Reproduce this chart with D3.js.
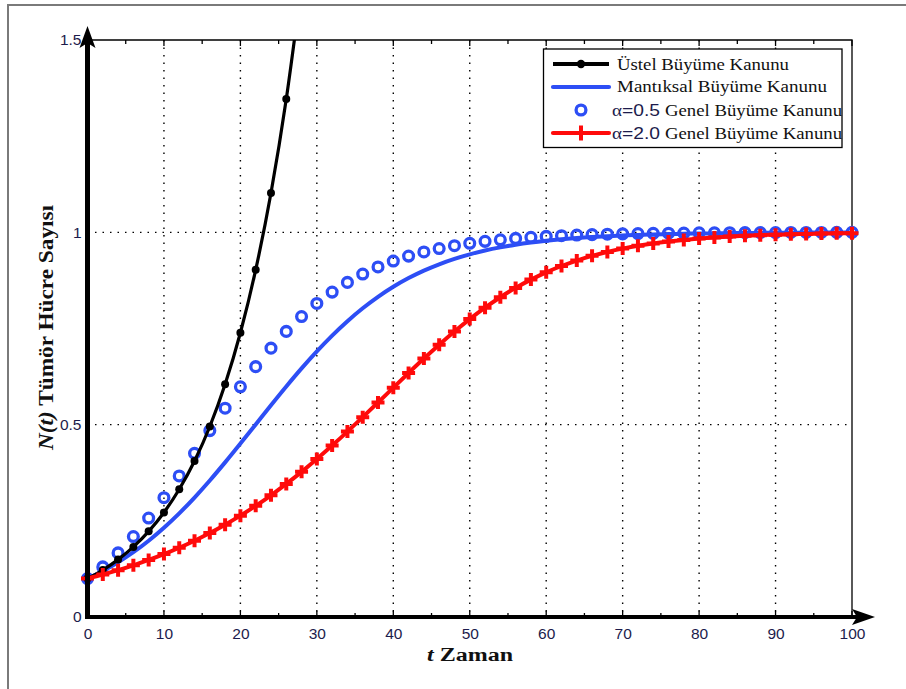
<!DOCTYPE html>
<html><head><meta charset="utf-8">
<script src="https://cdn.jsdelivr.net/npm/d3@7"></script>
<style>body{margin:0;background:#fff}svg{display:block}</style>
</head><body>
<svg id="c" width="906" height="689"></svg>
<script>
// ---- data ----
const tValues = [0,2,4,6,8,10,12,14,16,18,20,22,24,26,28,30,32,34,36,38,40,42,44,46,48,50,52,54,56,58,60,62,64,66,68,70,72,74,76,78,80,82,84,86,88,90,92,94,96,98,100];
const expT = [0,2,4,6,8,10,12,14,16,18,20,22,24,26,28];
const expValues = [0.1,0.1221,0.1492,0.1822,0.2226,0.2718,0.3320,0.4055,0.4953,0.6050,0.7389,0.9025,1.1023,1.3464,1.6445];
const logisticValues = [0.1,0.1195,0.1422,0.1684,0.1983,0.2320,0.2695,0.3106,0.3550,0.4020,0.4509,0.5007,0.5505,0.5993,0.6463,0.6906,0.7316,0.7690,0.8026,0.8324,0.8585,0.8811,0.9005,0.9170,0.9310,0.9428,0.9527,0.9609,0.9678,0.9735,0.9782,0.9821,0.9853,0.9879,0.9901,0.9919,0.9933,0.9945,0.9955,0.9963,0.9970,0.9975,0.9980,0.9983,0.9986,0.9989,0.9991,0.9993,0.9994,0.9995,0.9996];
const alpha05Values = [0.1,0.1303,0.1667,0.2091,0.2573,0.3102,0.3667,0.4254,0.4846,0.5427,0.5985,0.6508,0.6989,0.7424,0.7811,0.8151,0.8446,0.8699,0.8915,0.9099,0.9253,0.9382,0.9489,0.9579,0.9653,0.9715,0.9766,0.9807,0.9842,0.9870,0.9894,0.9913,0.9929,0.9941,0.9952,0.9961,0.9968,0.9974,0.9978,0.9982,0.9986,0.9988,0.9990,0.9992,0.9993,0.9995,0.9996,0.9996,0.9997,0.9998,0.9998];
const alpha20Values = [0.1,0.1104,0.1218,0.1344,0.1483,0.1635,0.1801,0.1984,0.2183,0.2400,0.2635,0.2890,0.3165,0.3460,0.3774,0.4107,0.4457,0.4820,0.5195,0.5577,0.5962,0.6344,0.6719,0.7080,0.7423,0.7745,0.8042,0.8313,0.8556,0.8771,0.8961,0.9125,0.9267,0.9388,0.9490,0.9577,0.9649,0.9711,0.9761,0.9803,0.9838,0.9867,0.9890,0.9910,0.9926,0.9939,0.9950,0.9959,0.9967,0.9973,0.9978];
const xTicks = [0,10,20,30,40,50,60,70,80,90,100];
const xMinorTicks = [5,15,25,35,45,55,65,75,85,95];
const yTicks = [0,0.5,1,1.5];
const xGrid = [10,20,30,40,50,60,70,80,90];
const yGrid = [0.5,1];
const legendLabels = ["Üstel Büyüme Kanunu","Mantıksal Büyüme Kanunu","Genel Büyüme Kanunu","Genel Büyüme Kanunu"];
const alphaLabels = ["0.5","2.0"];
const xLabelParts = ["t"," Zaman"];
const yLabelParts = ["N(t)"," Tümör Hücre Sayısı"];

// ---- drawing ----
const svg = d3.select("#c");
const X0 = 87.5, X1 = 852, Y0 = 617, Y1 = 40;
const x = d3.scaleLinear().domain([0,100]).range([X0,X1]);
const y = d3.scaleLinear().domain([0,1.5]).range([Y0,Y1]);
const BLUE = "#2d4ef5", RED = "#ff0a0a";
const serif = "'Liberation Serif','Times New Roman',serif";
const sans = "'Liberation Sans',Arial,sans-serif";

// outer frame
svg.append("path").attr("d","M8,689 L8,5 L906,5").attr("fill","none").attr("stroke","#7a7a7a").attr("stroke-width",2);

// grid
svg.append("g").selectAll("line").data(xGrid).join("line")
  .attr("x1",d=>x(d)).attr("x2",d=>x(d)).attr("y1",Y1).attr("y2",Y0)
  .attr("stroke","#000").attr("stroke-width",1.4).attr("stroke-dasharray","1.5,6");
svg.append("g").selectAll("line").data(yGrid).join("line")
  .attr("x1",X0).attr("x2",X1).attr("y1",d=>y(d)).attr("y2",d=>y(d))
  .attr("stroke","#000").attr("stroke-width",1.4).attr("stroke-dasharray","1.5,6");

// box top/right
svg.append("path").attr("d",`M${X0},${Y1} L${X1},${Y1} L${X1},${Y0}`).attr("fill","none").attr("stroke","#000").attr("stroke-width",1.3);

// axes via d3
const xAxis = d3.axisBottom(x).tickValues(xTicks).tickSize(0).tickPadding(11).tickFormat(d3.format("d"));
const gx = svg.append("g").attr("transform",`translate(0,${Y0})`).call(xAxis);
gx.select(".domain").remove();
gx.selectAll("text").attr("font-family",sans).attr("font-size",15.5).attr("fill","#1c1c4c");

const yAxis = d3.axisLeft(y).tickValues(yTicks).tickSize(0).tickPadding(6).tickFormat(d=>d3.format("")(d));
const gy = svg.append("g").attr("transform",`translate(${X0},0)`).call(yAxis);
gy.select(".domain").remove();
gy.selectAll("text").attr("font-family",sans).attr("font-size",15.5).attr("fill","#1c1c4c");

// inward ticks (bottom & top)
const tickG = svg.append("g").attr("stroke","#000").attr("stroke-width",1.3);
xTicks.concat(xMinorTicks).forEach(d=>{
  const L = xTicks.includes(d) ? 6 : 4;
  tickG.append("line").attr("x1",x(d)).attr("x2",x(d)).attr("y1",Y0).attr("y2",Y0-L);
  tickG.append("line").attr("x1",x(d)).attr("x2",x(d)).attr("y1",Y1).attr("y2",Y1+L);
});

// clip
svg.append("clipPath").attr("id","clip").append("rect").attr("x",X0-10).attr("y",Y1).attr("width",X1-X0+20).attr("height",Y0-Y1+10);
const plot = svg.append("g").attr("clip-path","url(#clip)");

const line = d3.line().curve(d3.curveMonotoneX);

// blue logistic line
plot.append("path").attr("d",line(tValues.map((t,i)=>[x(t),y(logisticValues[i])])))
  .attr("fill","none").attr("stroke",BLUE).attr("stroke-width",4);
// blue circles
plot.append("g").selectAll("circle").data(tValues).join("circle")
  .attr("cx",d=>x(d)).attr("cy",(d,i)=>y(alpha05Values[i])).attr("r",4.9)
  .attr("fill","none").attr("stroke",BLUE).attr("stroke-width",3.3);
// black exponential
plot.append("path").attr("d",line(expT.map((t,i)=>[x(t),y(expValues[i])])))
  .attr("fill","none").attr("stroke","#000").attr("stroke-width",3.2);
plot.append("g").selectAll("circle").data(expT).join("circle")
  .attr("cx",d=>x(d)).attr("cy",(d,i)=>y(expValues[i])).attr("r",4).attr("fill","#000");
// red alpha=2
plot.append("path").attr("d",line(tValues.map((t,i)=>[x(t),y(alpha20Values[i])])))
  .attr("fill","none").attr("stroke",RED).attr("stroke-width",4);
const plusPath = s => `M${-s},0 L${s},0 M0,${-s} L0,${s}`;
plot.append("g").selectAll("path").data(tValues).join("path")
  .attr("transform",(d,i)=>`translate(${x(d)},${y(alpha20Values[i])})`)
  .attr("d",plusPath(6.5)).attr("stroke",RED).attr("stroke-width",4).attr("fill","none");

// thick axis lines with arrows
svg.append("line").attr("x1",X0).attr("x2",X0).attr("y1",Y0+2).attr("y2",42).attr("stroke","#000").attr("stroke-width",5);
svg.append("path").attr("d",`M${X0},26 L${X0-8},48 L${X0},43 L${X0+8},48 Z`).attr("fill","#000");
svg.append("line").attr("x1",X0-2).attr("x2",862).attr("y1",Y0).attr("y2",Y0).attr("stroke","#000").attr("stroke-width",3.8);
svg.append("path").attr("d",`M875,${Y0} L852,${Y0-8} L857,${Y0} L852,${Y0+8} Z`).attr("fill","#000");

// axis titles
const xt = svg.append("text").attr("x",427).attr("y",661)
  .attr("font-family",serif).attr("font-size",18.5).attr("font-weight","bold").attr("fill","#111")
  .attr("textLength",86).attr("lengthAdjust","spacingAndGlyphs");
xt.append("tspan").attr("font-style","italic").text(xLabelParts[0]);
xt.append("tspan").text(xLabelParts[1]);
const yt = svg.append("text").attr("transform","translate(53,450) rotate(-90)")
  .attr("font-family",serif).attr("font-size",21).attr("font-weight","bold").attr("fill","#111")
  .attr("textLength",245).attr("lengthAdjust","spacingAndGlyphs");
yt.append("tspan").attr("font-style","italic").text(yLabelParts[0]);
yt.append("tspan").text(yLabelParts[1]);

// legend
const lg = svg.append("g");
lg.append("rect").attr("x",543.5).attr("y",49).attr("width",298.5).attr("height",98.5)
  .attr("fill","#fff").attr("stroke","#000").attr("stroke-width",1.3);
const rowsY = [64,87,110,133];
const lx0 = 553, lx1 = 609, lxc = 581;
// row 1
lg.append("line").attr("x1",lx0).attr("x2",lx1).attr("y1",rowsY[0]).attr("y2",rowsY[0]).attr("stroke","#000").attr("stroke-width",3.8);
lg.append("circle").attr("cx",lxc).attr("cy",rowsY[0]).attr("r",4.2).attr("fill","#000");
// row 2
lg.append("line").attr("x1",lx0).attr("x2",lx1).attr("y1",rowsY[1]).attr("y2",rowsY[1]).attr("stroke",BLUE).attr("stroke-width",4.2).attr("stroke-linecap","round");
// row 3
lg.append("circle").attr("cx",lxc).attr("cy",rowsY[2]).attr("r",4.9).attr("fill","none").attr("stroke",BLUE).attr("stroke-width",3.3);
// row 4
lg.append("line").attr("x1",lx0).attr("x2",lx1).attr("y1",rowsY[3]).attr("y2",rowsY[3]).attr("stroke",RED).attr("stroke-width",4.2).attr("stroke-linecap","round");
lg.append("path").attr("transform",`translate(${lxc},${rowsY[3]})`).attr("d",plusPath(7.5)).attr("stroke",RED).attr("stroke-width",4);

const legendText = (xx, yy, str, len, fam, size, fill) => lg.append("text").attr("x",xx).attr("y",yy)
  .attr("font-family",fam || serif).attr("font-size",size || 16).attr("fill",fill || "#111")
  .attr("textLength",len).attr("lengthAdjust","spacingAndGlyphs").text(str);
legendText(617, rowsY[0]+6, legendLabels[0], 172);
legendText(617, rowsY[1]+5, legendLabels[1], 210);
[2,3].forEach((r,k)=>{
  legendText(612, rowsY[r]+6, "α", 10, serif, 17, "#1c1c4c");
  legendText(622, rowsY[r]+6, "=" + alphaLabels[k], 38, sans, 17, "#1c1c4c");
  legendText(665, rowsY[r]+6, legendLabels[r], 177);
});
</script>
</body></html>
